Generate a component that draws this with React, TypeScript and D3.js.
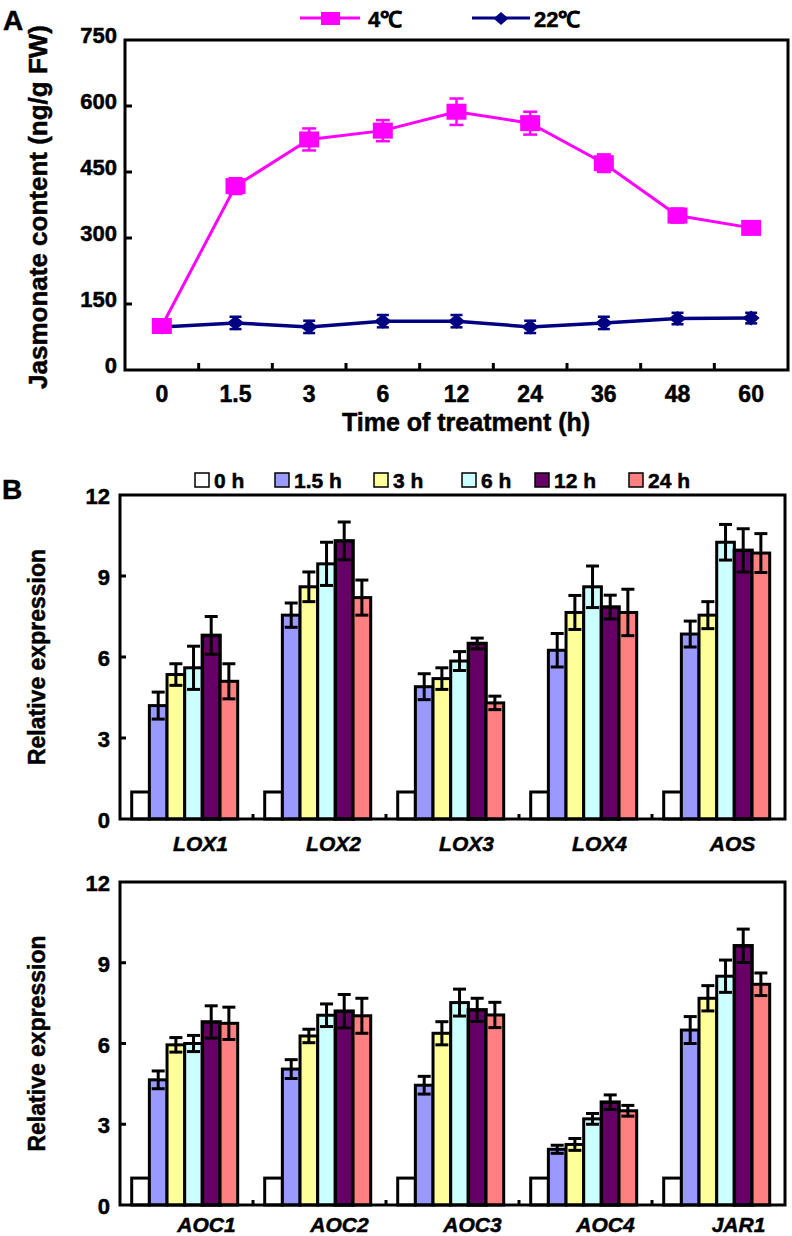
import React from "react";
import * as d3 from "d3";

// ---------- Panel A data ----------
const timePoints = ["0", "1.5", "3", "6", "12", "24", "36", "48", "60"];
const cold4 = [100, 418, 524, 544, 587, 561, 470, 351, 323];
const cold4Err = [8, 18, 25, 24, 30, 26, 20, 16, 14];
const warm22 = [98, 107, 98, 111, 111, 98, 107, 117, 118];
const warm22Err = [10, 14, 14, 14, 14, 14, 14, 13, 12];
const yTicksA = [0, 150, 300, 450, 600, 750];

// ---------- Panel B data ----------
const timeLabels = ["0 h", "1.5 h", "3 h", "6 h", "12 h", "24 h"];
const barColors = ["#FFFFFF", "#9999FF", "#FFFF99", "#CCFFFF", "#660066", "#FF8080"];
const yTicksB = [0, 3, 6, 9, 12];

const genesTop = ["LOX1", "LOX2", "LOX3", "LOX4", "AOS"];
const lox1 = [1, 4.2, 5.35, 5.6, 6.8, 5.1];
const lox1Err = [0, 0.5, 0.4, 0.8, 0.7, 0.65];
const lox2 = [1, 7.55, 8.6, 9.45, 10.3, 8.2];
const lox2Err = [0, 0.45, 0.55, 0.8, 0.7, 0.65];
const lox3 = [1, 4.9, 5.2, 5.85, 6.5, 4.3];
const lox3Err = [0, 0.48, 0.4, 0.35, 0.2, 0.25];
const lox4 = [1, 6.25, 7.65, 8.6, 7.85, 7.65];
const lox4Err = [0, 0.62, 0.63, 0.77, 0.44, 0.86];
const aos = [1, 6.85, 7.55, 10.25, 9.95, 9.85];
const aosErr = [0, 0.48, 0.5, 0.66, 0.8, 0.72];

const genesBottom = ["AOC1", "AOC2", "AOC3", "AOC4", "JAR1"];
const aoc1 = [1, 4.65, 5.95, 6.0, 6.8, 6.75];
const aoc1Err = [0, 0.33, 0.27, 0.3, 0.6, 0.6];
const aoc2 = [1, 5.05, 6.28, 7.05, 7.2, 7.03];
const aoc2Err = [0, 0.35, 0.25, 0.42, 0.62, 0.65];
const aoc3 = [1, 4.45, 6.38, 7.52, 7.25, 7.06];
const aoc3Err = [0, 0.33, 0.43, 0.5, 0.43, 0.47];
const aoc4 = [1, 2.07, 2.25, 3.2, 3.82, 3.5];
const aoc4Err = [0, 0.15, 0.22, 0.2, 0.27, 0.2];
const jar1 = [1, 6.5, 7.68, 8.5, 9.63, 8.2];
const jar1Err = [0, 0.5, 0.47, 0.6, 0.62, 0.42];

const topValues = [lox1, lox2, lox3, lox4, aos];
const topErrs = [lox1Err, lox2Err, lox3Err, lox4Err, aosErr];
const bottomValues = [aoc1, aoc2, aoc3, aoc4, jar1];
const bottomErrs = [aoc1Err, aoc2Err, aoc3Err, aoc4Err, jar1Err];

const FONT = "Arimo, 'Liberation Sans', Arial, sans-serif";
const MAGENTA = "#FF00FF";
const NAVY = "#000080";
const TXT = { stroke: "#000", strokeWidth: 0.5 };

function PanelA() {
  const left = 125, right = 788, top = 40, bottom = 370;
  const x = d3.scaleBand<string>().domain(timePoints).range([left, right]);
  const y = d3.scaleLinear().domain([0, 750]).range([bottom, top]);
  const cx = (d: string) => (x(d) as number) + x.bandwidth() / 2;
  const line = d3
    .line<number>()
    .x((_, i) => cx(timePoints[i]))
    .y((v) => y(v));

  const errBars = (vals: number[], errs: number[], color: string, cap: number) =>
    vals.map((v, i) => {
      const xx = cx(timePoints[i]);
      return (
        <g key={i} stroke={color} strokeWidth={2.5}>
          <line x1={xx} x2={xx} y1={y(v - errs[i])} y2={y(v + errs[i])} />
          <line x1={xx - cap / 2} x2={xx + cap / 2} y1={y(v - errs[i])} y2={y(v - errs[i])} />
          <line x1={xx - cap / 2} x2={xx + cap / 2} y1={y(v + errs[i])} y2={y(v + errs[i])} />
        </g>
      );
    });

  const diamond = (xx: number, yy: number, w: number, h: number) =>
    `M${xx},${yy - h / 2}L${xx + w / 2},${yy}L${xx},${yy + h / 2}L${xx - w / 2},${yy}Z`;

  return (
    <g fontFamily={FONT} fontWeight="bold">
      <text x={3} y={30} fontSize={28} {...TXT}>A</text>
      {/* legend */}
      <line x1={300} x2={360} y1={18} y2={18} stroke={MAGENTA} strokeWidth={3} />
      <rect x={321} y={12} width={19} height={13} fill={MAGENTA} />
      <text x={368} y={27} fontSize={22} {...TXT}>4℃</text>
      <line x1={472} x2={530} y1={18} y2={18} stroke={NAVY} strokeWidth={3} />
      <path d={diamond(501, 18.5, 15, 13)} fill={NAVY} />
      <text x={534} y={27} fontSize={22} {...TXT}>22℃</text>

      {/* series 22 */}
      <path d={line(warm22) || ""} fill="none" stroke={NAVY} strokeWidth={3.5} />
      {errBars(warm22, warm22Err, NAVY, 12)}
      {warm22.map((v, i) => (
        <path key={i} d={diamond(cx(timePoints[i]), y(v), 17, 15)} fill={NAVY} />
      ))}
      {/* series 4 */}
      <path d={line(cold4) || ""} fill="none" stroke={MAGENTA} strokeWidth={3} />
      {errBars(cold4, cold4Err, MAGENTA, 14)}
      {cold4.map((v, i) => (
        <rect key={i} x={cx(timePoints[i]) - 10} y={y(v) - 8} width={20} height={16} fill={MAGENTA} />
      ))}

      {/* frame */}
      <rect x={left} y={top} width={right - left} height={bottom - top} fill="none" stroke="#000" strokeWidth={3} />
      {yTicksA.slice(1, -1).map((t) => (
        <line key={t} x1={left} x2={left + 7} y1={y(t)} y2={y(t)} stroke="#000" strokeWidth={3} />
      ))}
      {yTicksA.map((t) => (
        <text key={t} x={117} y={y(t) + 3} fontSize={22} textAnchor="end" {...TXT}>{t}</text>
      ))}
      {timePoints.slice(1).map((d) => (
        <line key={d} x1={x(d)} x2={x(d)} y1={bottom} y2={bottom - 7} stroke="#000" strokeWidth={3} />
      ))}
      {timePoints.map((d) => (
        <text key={d} x={cx(d)} y={402} fontSize={23} textAnchor="middle" {...TXT}>{d}</text>
      ))}
      <text x={466} y={431} fontSize={25} textAnchor="middle" {...TXT}>Time of treatment (h)</text>
      <text transform={`translate(47,${(top + bottom) / 2 + 2}) rotate(-90)`} fontSize={26} textAnchor="middle" {...TXT}>
        Jasmonate content (ng/g FW)
      </text>
    </g>
  );
}

function BarPanel(props: {
  genes: string[];
  values: number[][];
  errs: number[][];
  top: number;
  bottom: number;
  labelShift: number;
  labelY: number;
}) {
  const { genes, values, errs, top, bottom, labelShift, labelY } = props;
  const left = 120, right = 785;
  const x0 = d3.scaleBand<string>().domain(genes).range([left, right]);
  const bw = x0.bandwidth();
  const x1 = d3.scaleBand<string>().domain(timeLabels).range([bw * 0.088, bw * 0.885]);
  const y = d3.scaleLinear().domain([0, 12]).range([bottom, top]);
  return (
    <g fontFamily={FONT} fontWeight="bold">
      {genes.map((g, gi) => (
        <g key={g} transform={`translate(${x0(g)},0)`}>
          {timeLabels.map((t, ti) => {
            const v = values[gi][ti];
            return (
              <rect
                key={t}
                x={x1(t)}
                y={y(v)}
                width={x1.bandwidth()}
                height={y(0) - y(v)}
                fill={barColors[ti]}
                stroke="#000"
                strokeWidth={ti === 4 ? 3.5 : 3}
              />
            );
          })}
          {timeLabels.map((t, ti) => {
            const v = values[gi][ti];
            const e = errs[gi][ti];
            if (!e) return null;
            const xx = (x1(t) as number) + x1.bandwidth() / 2;
            return (
              <g key={t} stroke="#000" strokeWidth={3}>
                <line x1={xx} x2={xx} y1={y(v - e)} y2={y(v + e)} />
                <line x1={xx - 6.5} x2={xx + 6.5} y1={y(v - e)} y2={y(v - e)} />
                <line x1={xx - 6.5} x2={xx + 6.5} y1={y(v + e)} y2={y(v + e)} />
              </g>
            );
          })}
        </g>
      ))}
      <rect x={left} y={top} width={right - left} height={bottom - top} fill="none" stroke="#000" strokeWidth={3} />
      {yTicksB.slice(1, -1).map((t) => (
        <line key={t} x1={left} x2={left + 6} y1={y(t)} y2={y(t)} stroke="#000" strokeWidth={3} />
      ))}
      {yTicksB.map((t) => (
        <text key={t} x={110} y={y(t) + 9} fontSize={22} textAnchor="end" {...TXT}>{t}</text>
      ))}
      {genes.slice(1).map((g) => (
        <line key={g} x1={x0(g)} x2={x0(g)} y1={bottom} y2={bottom - 5} stroke="#000" strokeWidth={3} />
      ))}
      {genes.map((g) => (
        <text key={g} x={(x0(g) as number) + bw / 2 + labelShift} y={labelY} fontSize={21} fontStyle="italic" textAnchor="middle" {...TXT}>
          {g}
        </text>
      ))}
      <text transform={`translate(45,${(top + bottom) / 2}) rotate(-90)`} fontSize={23} textAnchor="middle" {...TXT}>
        Relative expression
      </text>
    </g>
  );
}

function LegendB() {
  const xs = [195, 275, 374, 462, 535, 629];
  return (
    <g fontFamily={FONT} fontWeight="bold">
      <text x={2} y={499} fontSize={28} {...TXT}>B</text>
      {timeLabels.map((t, i) => (
        <g key={t}>
          <rect x={xs[i]} y={473} width={14} height={14} fill={barColors[i]} stroke="#000" strokeWidth={1.5} />
          <text x={xs[i] + 19} y={488} fontSize={21} {...TXT}>{t}</text>
        </g>
      ))}
    </g>
  );
}

export default function App() {
  return (
    <svg
      width={792}
      height={1236}
      viewBox="0 0 792 1236"
      style={{ position: "absolute", left: 0, top: 0, background: "#fff" }}
    >
      <rect width={792} height={1236} fill="#fff" />
      <PanelA />
      <LegendB />
      <BarPanel genes={genesTop} values={topValues} errs={topErrs} top={495} bottom={819} labelShift={14} labelY={851} />
      <BarPanel genes={genesBottom} values={bottomValues} errs={bottomErrs} top={882} bottom={1205} labelShift={20} labelY={1232} />
    </svg>
  );
}
